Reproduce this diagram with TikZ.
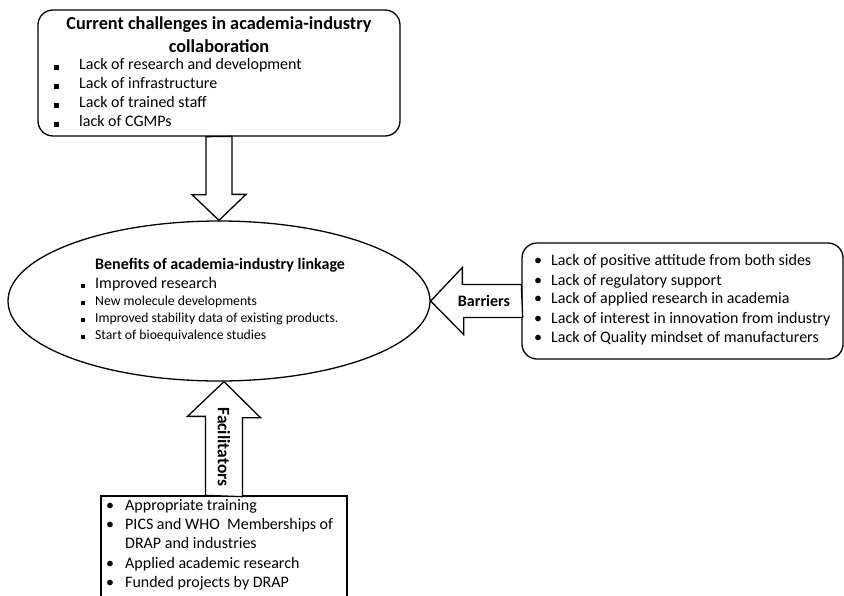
\documentclass[tikz,border=0pt]{standalone}
\usepackage{fontspec}
\setmainfont{Carlito}
\usetikzlibrary{shapes.geometric}
\tikzset{
  boxline/.style={draw,line width=1.3pt,inner sep=0pt},
  blockarrow/.style={draw,line width=1.3pt,fill=white},
  itemtext/.style={anchor=mid west,inner sep=0pt,font=\fontsize{16}{18}\selectfont},
  smalltext/.style={anchor=mid west,inner sep=0pt,font=\fontsize{13.7}{16}\selectfont},
  titletext/.style={inner sep=0pt,font=\bfseries\fontsize{18.3}{20}\selectfont},
  dot/.style={anchor=mid,inner sep=0pt,font=\fontsize{16}{18}\selectfont}
}
\begin{document}
\begin{tikzpicture}[x=1pt,y=-1pt]
      \clip (0,0) rectangle (844,595);
      % boxes
      \node[boxline,rounded corners=15pt,minimum width=362pt,minimum height=126pt] (chall) at (219,73) {};
      \node[boxline,ellipse,minimum width=422pt,minimum height=160pt] (benef) at (219,301) {};
      \node[boxline,rounded corners=15pt,minimum width=321pt,minimum height=116pt] (barr) at (682.5,301) {};
      \node[boxline,minimum width=246pt,minimum height=130pt] (facil) at (224,561) {};
      % block arrows
      \draw[blockarrow] (chall.south) ++(-13,0) -- ++(0,58) -- ++(-14,0) -- (benef.north) -- ++(27,-26) -- ++(-14,0) -- ++(0,-58) -- cycle;
      \draw[blockarrow] (barr.west) ++(0,-16.5) -- ++(-59,0) -- ++(0,-17) -- (benef.east) -- ++(33,33.5) -- ++(0,-17) -- ++(59,0) -- cycle;
      \draw[blockarrow] (facil.north) ++(-18.5,0) -- ++(0,-79) -- ++(-18,0) -- (facil.north |- benef.south) -- ++(36.5,36) -- ++(-18,0) -- ++(0,79) -- cycle;
      \node[titletext,font=\bfseries\fontsize{16}{18}\selectfont] (barrlabel) at (484,301) {Barriers};
      \node[titletext,font=\bfseries\fontsize{17.5}{19}\selectfont,rotate=-90] (faciltlabel) at (224,447) {Facilitators};
      % challenges
      \node[titletext] (challtitle) at (219,25) {Current challenges in academia-industry};
      \node[titletext] (challtitleb) at (219,46) {collaboration};
      \foreach \y/\t [count=\i] in {67/Lack of research and development,86/Lack of infrastructure,105/Lack of trained staff,124/lack of CGMPs} {
          \fill (54,\y-2.5) rectangle ++(5,5);
          \node[itemtext] (chall-\i) at (79,\y) {\t};
      }
      % benefits
      \node[titletext,font=\bfseries\fontsize{16}{18}\selectfont,anchor=mid west] (beneftitle) at (95,267) {Benefits of academia-industry linkage};
      \fill (80.5,286-2.25) rectangle ++(4.5,4.5);
      \node[itemtext] (benef-1) at (95,286) {Improved research};
      \foreach \y/\t [count=\i from 2] in {303/New molecule developments,320/Improved stability data of existing products.,337/Start of bioequivalence studies} {
          \fill (80.5,\y-2) rectangle ++(4,4);
          \node[smalltext] (benef-\i) at (95,\y) {\t};
      }
      % barriers
      \foreach \y/\t [count=\i] in {263/Lack of positive attitude from both sides,283/Lack of regulatory support,301/Lack of applied research in academia,321/Lack of interest in innovation from industry,340/Lack of Quality mindset of manufacturers} {
          \node[dot] (barrdot-\i) at (538,\y) {•};
          \node[itemtext] (barr-\i) at (551,\y) {\t};
      }
      % facilitators
      \foreach \y/\t [count=\i] in {508/Appropriate training,527/PICS and WHO\ \ Memberships of,566/Applied academic research,585/Funded projects by DRAP} {
          \node[dot] (facildot-\i) at (110,\y) {•};
          \node[itemtext] (facil-\i) at (125,\y) {\t};
      }
      \node[itemtext] (facil-2b) at (125,546) {DRAP and industries};
\end{tikzpicture}
\end{document}
